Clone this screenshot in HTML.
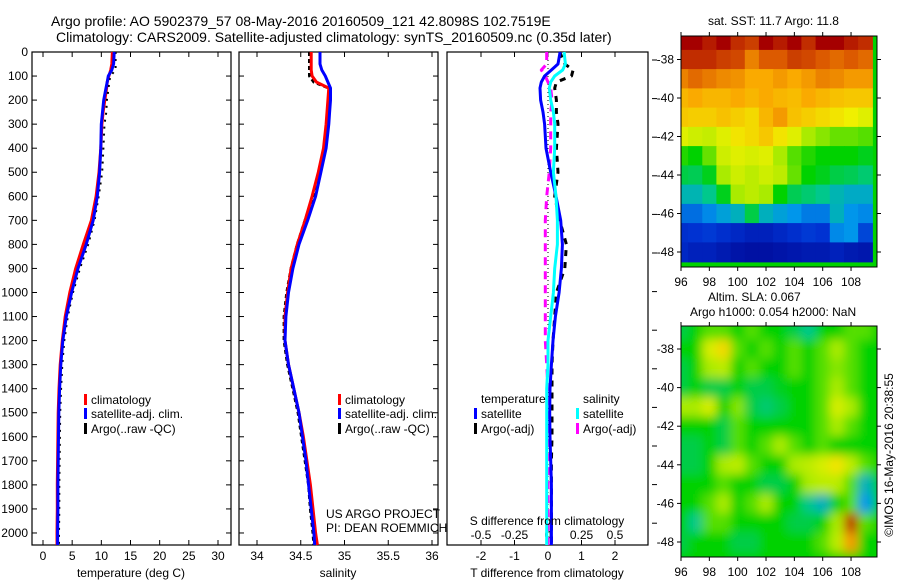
<!DOCTYPE html>
<html><head><meta charset="utf-8"><style>
body{margin:0;background:#fff;}
svg{display:block;font-family:"Liberation Sans",sans-serif;}
text{fill:#000;}
</style></head><body>
<svg id="fig" width="900" height="580" viewBox="0 0 900 580">
<defs>
<filter id="blur" x="0" y="0" width="1" height="1"><feGaussianBlur stdDeviation="5"/></filter>
<clipPath id="clipM1"><rect x="681" y="36" width="196" height="231"/></clipPath>
<clipPath id="clipM2"><rect x="681" y="326" width="196" height="231"/></clipPath>
</defs>
<text x="51" y="26" font-size="14">Argo profile: AO 5902379_57 08-May-2016 20160509_121 42.8098S 102.7519E</text>
<text x="56" y="42" font-size="14">Climatology: CARS2009. Satellite-adjusted climatology: synTS_20160509.nc (0.35d later)</text>
<g id="g1"></g>
<g id="g2"></g>
<g id="g3"></g>
<g id="m1"></g>
<g id="m2"></g>
<text x="708" y="25" font-size="12">sat. SST: 11.7 Argo: 11.8</text>
<text x="708" y="301" font-size="12">Altim. SLA: 0.067</text>
<text x="690" y="316" font-size="12">Argo h1000: 0.054 h2000: NaN</text>
<text transform="translate(893,455) rotate(-90)" text-anchor="middle" font-size="12">©IMOS 16-May-2016 20:38:55</text>
<text x="326" y="518" font-size="12">US ARGO PROJECT</text>
<text x="326" y="532" font-size="12">PI: DEAN ROEMMICH</text>
</svg>
<script>
const depths=[0,50,75,100,125,150,200,250,300,400,500,600,700,800,900,1000,1100,1200,1300,1400,1500,1600,1700,1800,1900,2000,2050];
const tempClim=[11.9,11.8,11.6,11.3,11.0,10.9,10.6,10.3,10.1,9.9,9.6,9.1,8.3,6.9,5.6,4.6,3.8,3.3,2.95,2.75,2.6,2.55,2.5,2.45,2.45,2.4,2.4];
const tempSat=[12.2,12.1,11.8,11.2,11.0,10.8,10.4,10.2,10.0,9.9,9.7,9.3,8.6,7.4,6.0,4.9,4.0,3.4,3.05,2.85,2.7,2.65,2.6,2.55,2.55,2.5,2.5];
const tempArgo=[12.2,12.2,12.2,11.3,11.1,11.0,10.7,10.6,10.3,10.1,9.9,9.3,8.6,7.5,6.1,4.9,4.0,3.4,3.05,2.85,2.7,2.65,2.6,2.55,2.55,2.5,2.5];
const salClim=[34.62,34.62,34.62,34.63,34.68,34.82,34.81,34.80,34.79,34.76,34.70,34.63,34.55,34.46,34.39,34.35,34.32,34.32,34.36,34.42,34.48,34.53,34.57,34.61,34.64,34.67,34.69];
const salSat=[34.72,34.72,34.74,34.78,34.81,34.84,34.84,34.83,34.82,34.79,34.73,34.67,34.58,34.48,34.41,34.36,34.33,34.32,34.36,34.42,34.48,34.52,34.56,34.59,34.62,34.65,34.66];
const salArgo=[34.61,34.61,34.61,34.61,34.66,34.83,34.84,34.83,34.82,34.78,34.72,34.65,34.56,34.47,34.40,34.35,34.32,34.32,34.36,34.42,34.48,34.52,34.56,34.60,34.62,34.65,34.66];
const dTsat=[0.36,0.3,0.1,-0.1,-0.2,-0.24,-0.22,-0.15,-0.1,-0.06,0.08,0.24,0.38,0.43,0.4,0.33,0.22,0.15,0.1,0.06,0.05,0.06,0.08,0.1,0.1,0.1,0.1];
const dTargo=[0.35,0.5,0.75,0.7,0.25,0.2,0.25,0.25,0.3,0.25,0.3,0.2,0.35,0.55,0.5,0.25,0.2,0.15,0.12,0.12,0.12,0.12,0.1,0.1,0.1,0.1,0.1];
const dSsat=[0.12,0.13,0.11,0.05,0.02,0.01,0.02,0.04,0.05,0.05,0.04,0.06,0.07,0.07,0.05,0.04,0.02,0.0,0.0,-0.01,-0.01,-0.01,-0.01,-0.01,-0.01,-0.01,-0.01];
const dSargo=[-0.01,-0.01,-0.05,-0.02,0.0,0.02,0.03,0.02,0.02,0.02,0.01,-0.01,-0.02,-0.02,-0.02,-0.02,-0.02,-0.02,-0.01,0,0,0,0,0,0,0,0];
const depthTicks=[0,100,200,300,400,500,600,700,800,900,1000,1100,1200,1300,1400,1500,1600,1700,1800,1900,2000];
const tempTicks=[0,5,10,15,20,25,30];
const salTicks=[34,34.5,35,35.5,36];
const dTTicks=[-2,-1,0,1,2];
const dSTicks=[-0.5,-0.25,0,0.25,0.5];
const lonTicks=[96,98,100,102,104,106,108];
const latTicks=[-38,-40,-42,-44,-46,-48];
const lonCells=[96,97,98,99,100,101,102,103,104,105,106,107,108,109];
const latCells=[-37,-38,-39,-40,-41,-42,-43,-44,-45,-46,-47,-48];
const sstGrid=[
[1,1,0.97,1,0.95,0.93,1,0.97,1,0.95,1,1,0.97,0.95],
[0.95,0.95,0.95,0.93,0.92,0.85,0.9,0.9,0.93,0.92,0.9,0.88,0.9,0.88],
[0.85,0.88,0.86,0.84,0.83,0.8,0.8,0.82,0.8,0.82,0.85,0.84,0.82,0.82],
[0.78,0.8,0.78,0.78,0.8,0.78,0.8,0.78,0.77,0.8,0.78,0.76,0.75,0.75],
[0.75,0.74,0.74,0.76,0.74,0.72,0.78,0.82,0.76,0.74,0.72,0.7,0.68,0.66],
[0.66,0.64,0.63,0.66,0.7,0.72,0.75,0.7,0.66,0.6,0.58,0.56,0.56,0.55],
[0.52,0.5,0.56,0.64,0.66,0.65,0.66,0.6,0.55,0.52,0.5,0.5,0.5,0.48],
[0.45,0.44,0.48,0.6,0.64,0.62,0.64,0.62,0.56,0.5,0.48,0.45,0.44,0.42],
[0.36,0.36,0.4,0.48,0.6,0.62,0.6,0.5,0.44,0.42,0.4,0.36,0.34,0.34],
[0.24,0.24,0.28,0.32,0.35,0.45,0.35,0.32,0.3,0.26,0.26,0.35,0.3,0.28],
[0.14,0.15,0.16,0.14,0.12,0.1,0.1,0.12,0.14,0.16,0.15,0.28,0.3,0.18],
[0.12,0.1,0.1,0.08,0.06,0.05,0.05,0.06,0.07,0.08,0.08,0.1,0.08,0.07]];
const slaGrid=[
[0.45,0.5,0.55,0.55,0.5,0.55,0.5,0.5,0.45,0.4,0.5,0.5,0.55,0.55],
[0.5,0.5,0.65,0.72,0.55,0.5,0.55,0.5,0.55,0.5,0.55,0.6,0.55,0.5],
[0.45,0.5,0.6,0.62,0.5,0.55,0.5,0.5,0.55,0.5,0.55,0.58,0.55,0.5],
[0.45,0.5,0.45,0.45,0.5,0.45,0.45,0.48,0.5,0.5,0.55,0.6,0.55,0.5],
[0.6,0.6,0.65,0.5,0.58,0.45,0.42,0.45,0.5,0.5,0.55,0.65,0.6,0.5],
[0.5,0.5,0.5,0.45,0.55,0.5,0.5,0.5,0.5,0.5,0.55,0.6,0.55,0.5],
[0.45,0.45,0.5,0.45,0.55,0.5,0.55,0.6,0.55,0.5,0.55,0.5,0.5,0.5],
[0.45,0.45,0.5,0.6,0.62,0.55,0.5,0.5,0.6,0.62,0.65,0.7,0.62,0.55],
[0.5,0.5,0.5,0.55,0.5,0.5,0.45,0.45,0.5,0.6,0.62,0.62,0.55,0.35],
[0.5,0.5,0.55,0.6,0.5,0.55,0.6,0.5,0.5,0.4,0.35,0.5,0.55,0.3],
[0.5,0.4,0.55,0.55,0.5,0.5,0.5,0.5,0.45,0.45,0.5,0.6,0.95,0.55],
[0.45,0.5,0.5,0.5,0.45,0.45,0.5,0.5,0.5,0.5,0.55,0.62,0.82,0.5]];

const NS='http://www.w3.org/2000/svg';
function mk(p,tag,attrs){const e=document.createElementNS(NS,tag);for(const k in attrs)e.setAttribute(k,attrs[k]);p.appendChild(e);return e;}
const Y0=52,Y1=545;
const yD=d=>Y0+d*(Y1-Y0)/2050;
const xT=v=>43+v*(218-43)/30;
const xS=v=>257+(v-34)*87.5;
const xDT=v=>548+v*33.5;
const xDS=v=>548+v*134;
const lon1=v=>681+(v-96)*14.17;
const lat1=v=>59.5+(-38-v)*19.25;
const lat2=v=>349+(-38-v)*19.3;

function frame(g,x0,x1,name){
  const r=mk(g,'rect',{x:x0,y:Y0,width:x1-x0,height:Y1-Y0,fill:'none',stroke:'#000','stroke-width':1.2});
  
  
}
function profile(g,xs,vals,color,w,dash,name){
  const pts=vals.map((v,i)=>xs(v).toFixed(1)+','+yD(depths[i]).toFixed(1)).join(' ');
  const a={points:pts,fill:'none',stroke:color,'stroke-width':w,'stroke-linejoin':'round'};
  if(dash)a['stroke-dasharray']=dash;
  const p=mk(g,'polyline',a);
  
  
}
function xticks(g,vals,f,ly,fs){
  vals.forEach(v=>{const x=f(v);
    mk(g,'line',{x1:x,x2:x,y1:Y1,y2:Y1-5,stroke:'#000'});
    mk(g,'line',{x1:x,x2:x,y1:Y0,y2:Y0+5,stroke:'#000'});
    const t=mk(g,'text',{x:x,y:ly,'font-size':fs||12,'text-anchor':'middle'});t.textContent=v;
    
    
  });
}
function yticks(g,x0,x1,labels){
  depthTicks.forEach(d=>{const y=yD(d);
    mk(g,'line',{x1:x0,x2:x0+5,y1:y,y2:y,stroke:'#000'});
    mk(g,'line',{x1:x1,x2:x1-5,y1:y,y2:y,stroke:'#000'});
    if(labels){const t=mk(g,'text',{x:28,y:y+4,'font-size':12,'text-anchor':'end'});t.textContent=d;
      
      }
  });
}
function legend(g,x,y,color,label){
  mk(g,'rect',{x:x,y:y-5,width:3,height:11,fill:color});
  const t=mk(g,'text',{x:x+7,y:y+5,'font-size':12});t.textContent=label;
  
  
}
// panel 1
const g1=document.getElementById('g1');
frame(g1,32,231,'temperature');
xticks(g1,tempTicks,xT,560);yticks(g1,32,231,true);
profile(g1,xT,tempClim,'#f00',3,null,'temp-climatology-line');
profile(g1,xT,tempArgo.map(v=>v+0.25),'#000',2,'2,5','temp-argo-line');
profile(g1,xT,tempSat,'#00f',3,null,'temp-satellite-line');
legend(g1,84,399,'#f00','climatology');legend(g1,84,413,'#00f','satellite-adj. clim.');legend(g1,84,428,'#000','Argo(..raw -QC)');
let t=mk(g1,'text',{x:131,y:577,'font-size':12,'text-anchor':'middle'});t.textContent='temperature (deg C)';


// panel 2
const g2=document.getElementById('g2');
frame(g2,239,438,'salinity');
xticks(g2,salTicks,xS,560);yticks(g2,239,438,false);
profile(g2,xS,salArgo.map(v=>v-0.01),'#000',3,'4,3','sal-argo-line');
profile(g2,xS,salClim,'#f00',3,null,'sal-climatology-line');
profile(g2,xS,salSat,'#00f',3,null,'sal-satellite-line');
legend(g2,338,399,'#f00','climatology');legend(g2,338,413,'#00f','satellite-adj. clim.');legend(g2,338,428,'#000','Argo(..raw -QC)');
t=mk(g2,'text',{x:338,y:577,'font-size':12,'text-anchor':'middle'});t.textContent='salinity';


// panel 3
const g3=document.getElementById('g3');
frame(g3,447,648,'difference');
dTTicks.forEach(v=>{const x=xDT(v);mk(g3,'line',{x1:x,x2:x,y1:Y1,y2:Y1-5,stroke:'#000'});mk(g3,'line',{x1:x,x2:x,y1:Y0,y2:Y0+5,stroke:'#000'});
  const tt=mk(g3,'text',{x:x,y:560,'font-size':12,'text-anchor':'middle'});tt.textContent=v;
  
  });
dSTicks.forEach(v=>{const tt=mk(g3,'text',{x:xDS(v),y:539,'font-size':12,'text-anchor':'middle'});tt.textContent=v;
  
  });
for(let y=60;y<545;y+=38.6)mk(g3,'line',{x1:652,x2:657,y1:y,y2:y,stroke:'#000'});
mk(g3,'line',{x1:548,x2:548,y1:Y0,y2:Y1,stroke:'#000','stroke-dasharray':'1,3'});
profile(g3,xDT,dTargo,'#000',3,'6,6','t-diff-argo-line');
profile(g3,xDS,dSargo,'#f0f',3,'8,6','s-diff-argo-line');
profile(g3,xDT,dTsat,'#00f',3,null,'t-diff-satellite-line');
profile(g3,xDS,dSsat,'#0ff',3,null,'s-diff-satellite-line');
t=mk(g3,'text',{x:481,y:403,'font-size':12});t.textContent='temperature';


t=mk(g3,'text',{x:583,y:403,'font-size':12});t.textContent='salinity';


legend(g3,474,413,'#00f','satellite');legend(g3,474,428,'#000','Argo(-adj)');
legend(g3,576,413,'#0ff','satellite');legend(g3,576,428,'#f0f','Argo(-adj)');
t=mk(g3,'text',{x:547,y:525,'font-size':12,'text-anchor':'middle'});t.textContent='S difference from climatology';


t=mk(g3,'text',{x:547,y:577,'font-size':12,'text-anchor':'middle'});t.textContent='T difference from climatology';


// maps
const stops=[[0,0,0,140],[0.15,0,50,210],[0.3,0,150,235],[0.4,0,200,140],[0.5,0,210,0],[0.6,170,235,0],[0.68,240,240,0],[0.8,250,170,0],[0.9,220,90,0],[1,165,0,0]];
function cmap(v){for(let i=1;i<stops.length;i++){if(v<=stops[i][0]){const a=stops[i-1],b=stops[i],f=(v-a[0])/(b[0]-a[0]);
  return 'rgb('+[1,2,3].map(k=>Math.round(a[k]+f*(b[k]-a[k]))).join(',')+')';}}return 'rgb(165,0,0)';}
function map(id,grid,latf,y0,clip,blur){
  const g=document.getElementById(id);
  const inner=mk(g,'g',{'clip-path':'url(#'+clip+')'});
  const h=mk(inner,'g',blur?{filter:'url(#blur)'}:{});
  mk(h,'rect',{x:671,y:y0-10,width:216,height:251,fill:cmap(0.5)});
  grid.forEach((row,r)=>row.forEach((v,c)=>{
    const x=lon1(lonCells[c]-0.5), y=latf(latCells[r]+0.5);
    const cell=mk(h,'rect',{x:x.toFixed(1),y:y.toFixed(1),width:14.8,height:20,fill:cmap(v)});
    
    
  }));
  const fr=mk(g,'rect',{x:681,y:y0,width:196,height:231,fill:'none',stroke:'#000'});
  
  
  lonTicks.forEach(v=>{const x=lon1(v);mk(g,'line',{x1:x,x2:x,y1:y0+231,y2:y0+235,stroke:'#000'});mk(g,'line',{x1:x,x2:x,y1:y0,y2:y0-4,stroke:'#000'});
    const tt=mk(g,'text',{x:x,y:y0+250,'font-size':12,'text-anchor':'middle'});tt.textContent=v;
    
    });
  latTicks.forEach(v=>{const y=latf(v);mk(g,'line',{x1:677,x2:681,y1:y,y2:y,stroke:'#000'});mk(g,'line',{x1:877,x2:881,y1:y,y2:y,stroke:'#000'});
    const tt=mk(g,'text',{x:674,y:y+4,'font-size':12,'text-anchor':'end'});tt.textContent=v;
    
    });
}
map('m1',sstGrid,lat1,36,'clipM1',false);
map('m2',slaGrid,lat2,326,'clipM2',true);
</script>
</body></html>
